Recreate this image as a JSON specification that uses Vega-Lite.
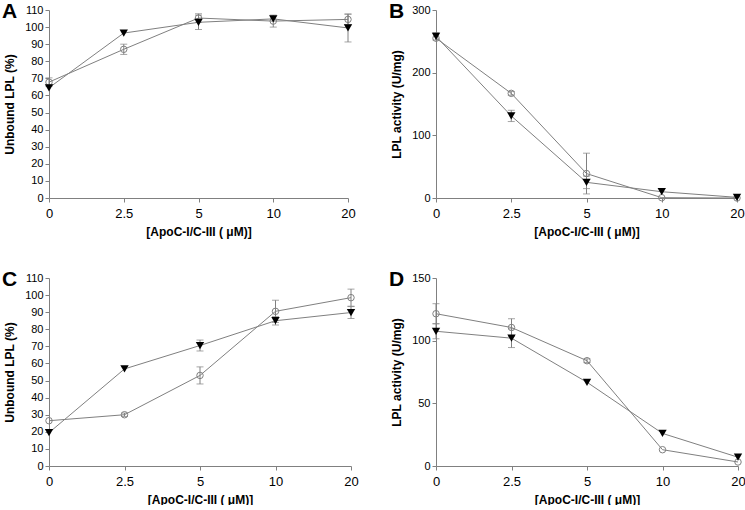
{
"$schema": "https://vega.github.io/schema/vega-lite/v6.json",
"padding": {"left": 2, "top": 1, "right": 0, "bottom": 0},
"config": {
  "font": "Liberation Sans",
  "view": {"stroke": null},
  "axis": {"grid": false, "domainColor": "#808080", "tickColor": "#808080", "labelColor": "#000000", "titleColor": "#000000", "labelFont": "Liberation Sans", "titleFont": "Liberation Sans", "titleFontWeight": "bold", "tickSize": 4, "domainWidth": 1, "tickWidth": 1},
  "axisX": {"labelFontSize": 13, "titleFontSize": 12, "labelPadding": 5, "titlePadding": 6, "labelAngle": 0},
  "axisY": {"labelFontSize": 11, "titleFontSize": 12, "labelPadding": 2, "titlePadding": 8, "labelFlush": false},
  "title": {"anchor": "start", "frame": "group", "fontSize": 21, "fontWeight": "bold", "font": "Liberation Sans", "color": "#000000", "dx": -47, "baseline": "alphabetic", "offset": 0, "dy": 22}
},
"datasets": {"pts": [
{"p":"A","c":0,"s":"circle","y":67.8,"lo":65.3,"hi":70.3},
{"p":"A","c":2.5,"s":"circle","y":87,"lo":84,"hi":90},
{"p":"A","c":5,"s":"circle","y":105.3,"lo":102.8,"hi":107.8},
{"p":"A","c":10,"s":"circle","y":103.5,"lo":100,"hi":107},
{"p":"A","c":20,"s":"circle","y":104.5,"lo":101.5,"hi":107.5},
{"p":"A","c":0,"s":"triangle","y":64.5},
{"p":"A","c":2.5,"s":"triangle","y":96.5},
{"p":"A","c":5,"s":"triangle","y":102.8,"lo":98.6,"hi":107},
{"p":"A","c":10,"s":"triangle","y":104.8},
{"p":"A","c":20,"s":"triangle","y":99.5,"lo":91.3,"hi":107.7},
{"p":"B","c":0,"s":"circle","y":255},
{"p":"B","c":2.5,"s":"circle","y":167,"lo":164,"hi":170},
{"p":"B","c":5,"s":"circle","y":39,"lo":6.5,"hi":71.5},
{"p":"B","c":10,"s":"circle","y":0.5},
{"p":"B","c":20,"s":"circle","y":0},
{"p":"B","c":0,"s":"triangle","y":258,"lo":252,"hi":264},
{"p":"B","c":2.5,"s":"triangle","y":131,"lo":122,"hi":140},
{"p":"B","c":5,"s":"triangle","y":25,"lo":15,"hi":35},
{"p":"B","c":10,"s":"triangle","y":10},
{"p":"B","c":20,"s":"triangle","y":1},
{"p":"C","c":0,"s":"circle","y":26.5},
{"p":"C","c":2.5,"s":"circle","y":30,"lo":29,"hi":31},
{"p":"C","c":5,"s":"circle","y":53,"lo":48,"hi":58},
{"p":"C","c":10,"s":"circle","y":90.5,"lo":84,"hi":97},
{"p":"C","c":20,"s":"circle","y":98.5,"lo":93.5,"hi":103.5},
{"p":"C","c":0,"s":"triangle","y":19.5},
{"p":"C","c":2.5,"s":"triangle","y":56.8},
{"p":"C","c":5,"s":"triangle","y":70.5,"lo":67.3,"hi":73.7},
{"p":"C","c":10,"s":"triangle","y":85,"lo":82.5,"hi":87.5},
{"p":"C","c":20,"s":"triangle","y":89.8,"lo":86.3,"hi":93.3},
{"p":"D","c":0,"s":"circle","y":121.5,"lo":113.5,"hi":129.5},
{"p":"D","c":2.5,"s":"circle","y":110.5,"lo":103.5,"hi":117.5},
{"p":"D","c":5,"s":"circle","y":84,"lo":82.5,"hi":85.5},
{"p":"D","c":10,"s":"circle","y":13},
{"p":"D","c":20,"s":"circle","y":3.2},
{"p":"D","c":0,"s":"triangle","y":107.5,"lo":101.5,"hi":113.5},
{"p":"D","c":2.5,"s":"triangle","y":102,"lo":94.5,"hi":109.5},
{"p":"D","c":5,"s":"triangle","y":66.8},
{"p":"D","c":10,"s":"triangle","y":26},
{"p":"D","c":20,"s":"triangle","y":7}
]},
"data": {"name": "pts"},
"columns": 2,
"align": "none",
"bounds": "flush",
"spacing": {"row": 80, "column": 85},
"concat": [
{
 "width": 299, "height": 188,
 "title": {"text": "A"},
 "transform": [{"filter": "datum.p === 'A'"}],
 "encoding": {"x": {"field": "c", "type": "ordinal", "scale": {"type": "point", "padding": 0}, "axis": {"title": "[ApoC-I/C-III ( μM)]"}}},
 "layer": [
  {"transform": [{"filter": "isValid(datum.lo)"}], "mark": {"type": "rule", "color": "#808080", "strokeWidth": 1},
   "encoding": {"y": {"field": "lo", "type": "quantitative", "scale": {"domain": [0, 110], "nice": false}, "axis": {"values": [0,10,20,30,40,50,60,70,80,90,100,110]}, "title": "Unbound LPL (%)"}, "y2": {"field": "hi"}}},
  {"transform": [{"filter": "isValid(datum.lo)"}], "mark": {"type": "tick", "color": "#808080", "size": 7, "thickness": 1, "orient": "horizontal"},
   "encoding": {"y": {"field": "lo", "type": "quantitative", "scale": {"domain": [0, 110], "nice": false}, "axis": {"values": [0,10,20,30,40,50,60,70,80,90,100,110]}, "title": "Unbound LPL (%)"}}},
  {"transform": [{"filter": "isValid(datum.lo)"}], "mark": {"type": "tick", "color": "#808080", "size": 7, "thickness": 1, "orient": "horizontal"},
   "encoding": {"y": {"field": "hi", "type": "quantitative", "scale": {"domain": [0, 110], "nice": false}, "axis": {"values": [0,10,20,30,40,50,60,70,80,90,100,110]}, "title": "Unbound LPL (%)"}}},
  {"mark": {"type": "line", "color": "#808080", "strokeWidth": 1},
   "encoding": {"y": {"field": "y", "type": "quantitative", "scale": {"domain": [0, 110], "nice": false}, "axis": {"values": [0,10,20,30,40,50,60,70,80,90,100,110]}, "title": "Unbound LPL (%)"}, "detail": {"field": "s"}}},
  {"transform": [{"filter": "datum.s === 'circle'"}], "mark": {"type": "point", "shape": "circle", "filled": false, "color": "#808080", "size": 42, "strokeWidth": 1, "opacity": 1},
   "encoding": {"y": {"field": "y", "type": "quantitative", "scale": {"domain": [0, 110], "nice": false}, "axis": {"values": [0,10,20,30,40,50,60,70,80,90,100,110]}, "title": "Unbound LPL (%)"}}},
  {"transform": [{"filter": "datum.s === 'triangle'"}], "mark": {"type": "point", "shape": "triangle-down", "filled": true, "color": "#000000", "size": 70, "opacity": 1},
   "encoding": {"y": {"field": "y", "type": "quantitative", "scale": {"domain": [0, 110], "nice": false}, "axis": {"values": [0,10,20,30,40,50,60,70,80,90,100,110]}, "title": "Unbound LPL (%)"}}}
 ]
},
{
 "width": 301, "height": 188,
 "title": {"text": "B"},
 "transform": [{"filter": "datum.p === 'B'"}],
 "encoding": {"x": {"field": "c", "type": "ordinal", "scale": {"type": "point", "padding": 0}, "axis": {"title": "[ApoC-I/C-III ( μM)]"}}},
 "layer": [
  {"transform": [{"filter": "isValid(datum.lo)"}], "mark": {"type": "rule", "color": "#808080", "strokeWidth": 1},
   "encoding": {"y": {"field": "lo", "type": "quantitative", "scale": {"domain": [0, 300], "nice": false}, "axis": {"values": [0,100,200,300]}, "title": "LPL activity (U/mg)"}, "y2": {"field": "hi"}}},
  {"transform": [{"filter": "isValid(datum.lo)"}], "mark": {"type": "tick", "color": "#808080", "size": 7, "thickness": 1, "orient": "horizontal"},
   "encoding": {"y": {"field": "lo", "type": "quantitative", "scale": {"domain": [0, 300], "nice": false}, "axis": {"values": [0,100,200,300]}, "title": "LPL activity (U/mg)"}}},
  {"transform": [{"filter": "isValid(datum.lo)"}], "mark": {"type": "tick", "color": "#808080", "size": 7, "thickness": 1, "orient": "horizontal"},
   "encoding": {"y": {"field": "hi", "type": "quantitative", "scale": {"domain": [0, 300], "nice": false}, "axis": {"values": [0,100,200,300]}, "title": "LPL activity (U/mg)"}}},
  {"mark": {"type": "line", "color": "#808080", "strokeWidth": 1},
   "encoding": {"y": {"field": "y", "type": "quantitative", "scale": {"domain": [0, 300], "nice": false}, "axis": {"values": [0,100,200,300]}, "title": "LPL activity (U/mg)"}, "detail": {"field": "s"}}},
  {"transform": [{"filter": "datum.s === 'circle'"}], "mark": {"type": "point", "shape": "circle", "filled": false, "color": "#808080", "size": 42, "strokeWidth": 1, "opacity": 1},
   "encoding": {"y": {"field": "y", "type": "quantitative", "scale": {"domain": [0, 300], "nice": false}, "axis": {"values": [0,100,200,300]}, "title": "LPL activity (U/mg)"}}},
  {"transform": [{"filter": "datum.s === 'triangle'"}], "mark": {"type": "point", "shape": "triangle-down", "filled": true, "color": "#000000", "size": 70, "opacity": 1},
   "encoding": {"y": {"field": "y", "type": "quantitative", "scale": {"domain": [0, 300], "nice": false}, "axis": {"values": [0,100,200,300]}, "title": "LPL activity (U/mg)"}}}
 ]
},
{
 "width": 302, "height": 188,
 "title": {"text": "C"},
 "transform": [{"filter": "datum.p === 'C'"}],
 "encoding": {"x": {"field": "c", "type": "ordinal", "scale": {"type": "point", "padding": 0}, "axis": {"title": "[ApoC-I/C-III ( μM)]"}}},
 "layer": [
  {"transform": [{"filter": "isValid(datum.lo)"}], "mark": {"type": "rule", "color": "#808080", "strokeWidth": 1},
   "encoding": {"y": {"field": "lo", "type": "quantitative", "scale": {"domain": [0, 110], "nice": false}, "axis": {"values": [0,10,20,30,40,50,60,70,80,90,100,110]}, "title": "Unbound LPL (%)"}, "y2": {"field": "hi"}}},
  {"transform": [{"filter": "isValid(datum.lo)"}], "mark": {"type": "tick", "color": "#808080", "size": 7, "thickness": 1, "orient": "horizontal"},
   "encoding": {"y": {"field": "lo", "type": "quantitative", "scale": {"domain": [0, 110], "nice": false}, "axis": {"values": [0,10,20,30,40,50,60,70,80,90,100,110]}, "title": "Unbound LPL (%)"}}},
  {"transform": [{"filter": "isValid(datum.lo)"}], "mark": {"type": "tick", "color": "#808080", "size": 7, "thickness": 1, "orient": "horizontal"},
   "encoding": {"y": {"field": "hi", "type": "quantitative", "scale": {"domain": [0, 110], "nice": false}, "axis": {"values": [0,10,20,30,40,50,60,70,80,90,100,110]}, "title": "Unbound LPL (%)"}}},
  {"mark": {"type": "line", "color": "#808080", "strokeWidth": 1},
   "encoding": {"y": {"field": "y", "type": "quantitative", "scale": {"domain": [0, 110], "nice": false}, "axis": {"values": [0,10,20,30,40,50,60,70,80,90,100,110]}, "title": "Unbound LPL (%)"}, "detail": {"field": "s"}}},
  {"transform": [{"filter": "datum.s === 'circle'"}], "mark": {"type": "point", "shape": "circle", "filled": false, "color": "#808080", "size": 42, "strokeWidth": 1, "opacity": 1},
   "encoding": {"y": {"field": "y", "type": "quantitative", "scale": {"domain": [0, 110], "nice": false}, "axis": {"values": [0,10,20,30,40,50,60,70,80,90,100,110]}, "title": "Unbound LPL (%)"}}},
  {"transform": [{"filter": "datum.s === 'triangle'"}], "mark": {"type": "point", "shape": "triangle-down", "filled": true, "color": "#000000", "size": 70, "opacity": 1},
   "encoding": {"y": {"field": "y", "type": "quantitative", "scale": {"domain": [0, 110], "nice": false}, "axis": {"values": [0,10,20,30,40,50,60,70,80,90,100,110]}, "title": "Unbound LPL (%)"}}}
 ]
},
{
 "width": 302, "height": 188,
 "title": {"text": "D"},
 "transform": [{"filter": "datum.p === 'D'"}],
 "encoding": {"x": {"field": "c", "type": "ordinal", "scale": {"type": "point", "padding": 0}, "axis": {"title": "[ApoC-I/C-III ( μM)]"}}},
 "layer": [
  {"transform": [{"filter": "isValid(datum.lo)"}], "mark": {"type": "rule", "color": "#808080", "strokeWidth": 1},
   "encoding": {"y": {"field": "lo", "type": "quantitative", "scale": {"domain": [0, 150], "nice": false}, "axis": {"values": [0,50,100,150]}, "title": "LPL activity (U/mg)"}, "y2": {"field": "hi"}}},
  {"transform": [{"filter": "isValid(datum.lo)"}], "mark": {"type": "tick", "color": "#808080", "size": 7, "thickness": 1, "orient": "horizontal"},
   "encoding": {"y": {"field": "lo", "type": "quantitative", "scale": {"domain": [0, 150], "nice": false}, "axis": {"values": [0,50,100,150]}, "title": "LPL activity (U/mg)"}}},
  {"transform": [{"filter": "isValid(datum.lo)"}], "mark": {"type": "tick", "color": "#808080", "size": 7, "thickness": 1, "orient": "horizontal"},
   "encoding": {"y": {"field": "hi", "type": "quantitative", "scale": {"domain": [0, 150], "nice": false}, "axis": {"values": [0,50,100,150]}, "title": "LPL activity (U/mg)"}}},
  {"mark": {"type": "line", "color": "#808080", "strokeWidth": 1},
   "encoding": {"y": {"field": "y", "type": "quantitative", "scale": {"domain": [0, 150], "nice": false}, "axis": {"values": [0,50,100,150]}, "title": "LPL activity (U/mg)"}, "detail": {"field": "s"}}},
  {"transform": [{"filter": "datum.s === 'circle'"}], "mark": {"type": "point", "shape": "circle", "filled": false, "color": "#808080", "size": 42, "strokeWidth": 1, "opacity": 1},
   "encoding": {"y": {"field": "y", "type": "quantitative", "scale": {"domain": [0, 150], "nice": false}, "axis": {"values": [0,50,100,150]}, "title": "LPL activity (U/mg)"}}},
  {"transform": [{"filter": "datum.s === 'triangle'"}], "mark": {"type": "point", "shape": "triangle-down", "filled": true, "color": "#000000", "size": 70, "opacity": 1},
   "encoding": {"y": {"field": "y", "type": "quantitative", "scale": {"domain": [0, 150], "nice": false}, "axis": {"values": [0,50,100,150]}, "title": "LPL activity (U/mg)"}}}
 ]
}
]
}
